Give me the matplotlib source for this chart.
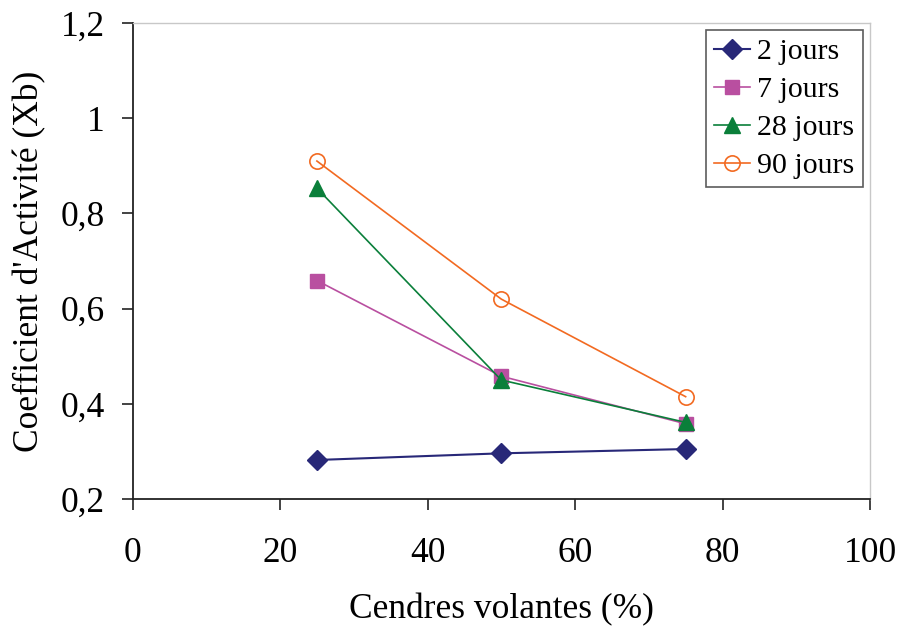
import matplotlib
matplotlib.use("Agg")
import matplotlib.pyplot as plt

# fly ash content (%)
cendres = [25, 50, 75]

# activity coefficient per curing age
xb_2j = [0.282, 0.296, 0.305]
xb_7j = [0.659, 0.458, 0.358]
xb_28j = [0.853, 0.450, 0.361]
xb_90j = [0.910, 0.620, 0.415]

labels = ["2 jours", "7 jours", "28 jours", "90 jours"]

plt.rcParams['font.family'] = ['Liberation Serif', 'DejaVu Serif']

fig = plt.figure(figsize=(9.01, 6.3), dpi=100)
ax = fig.add_axes([0.1471, 0.2079, 0.8185, 0.7556])

ax.plot(cendres, xb_2j, color="#282878", marker="D", markersize=10, lw=1.5, label=labels[0])
ax.plot(cendres, xb_7j, color="#b94fa0", marker="s", markersize=10.5, lw=1.2, label=labels[1])
ax.plot(cendres, xb_28j, color="#0a7f3a", marker="^", markersize=11.5, lw=1.2, label=labels[2])
ax.plot(cendres, xb_90j, color="#f26a21", marker="o", markersize=11, lw=1.2,
        markerfacecolor="none", markeredgewidth=1.2, label=labels[3])

ax.set_xlim(0, 100)
ax.set_ylim(0.2, 1.2)
ax.set_xticks([0, 20, 40, 60, 80, 100])
ax.set_yticks([0.2, 0.4, 0.6, 0.8, 1.0, 1.2])
ax.set_yticklabels(["0,2", "0,4", "0,6", "0,8", "1", "1,2"])

for side in ["top", "right"]:
    ax.spines[side].set_color("#c8c8c8")
    ax.spines[side].set_linewidth(1.0)
for side in ["left", "bottom"]:
    ax.spines[side].set_color("#222222")
    ax.spines[side].set_linewidth(1.3)

ax.tick_params(labelsize=25.5, length=8, width=1.2, direction="out", color="#222222")
ax.tick_params(axis="y", pad=12)
ax.tick_params(axis="x", pad=19)

ax.set_xlabel("Cendres volantes (%)", fontsize=25.5, labelpad=17)
ax.set_ylabel("Coefficient d'Activité (Xb)", fontsize=25.5, labelpad=10.5)

leg = ax.legend(loc="upper right", fontsize=21.5, frameon=True, fancybox=False,
                edgecolor="#333333", borderpad=0.27, handlelength=1.2,
                handletextpad=0.25, labelspacing=0.37, borderaxespad=0.25)
leg.get_frame().set_linewidth(1.2)

fig.savefig("out.png", dpi=100)
plt.close(fig)
